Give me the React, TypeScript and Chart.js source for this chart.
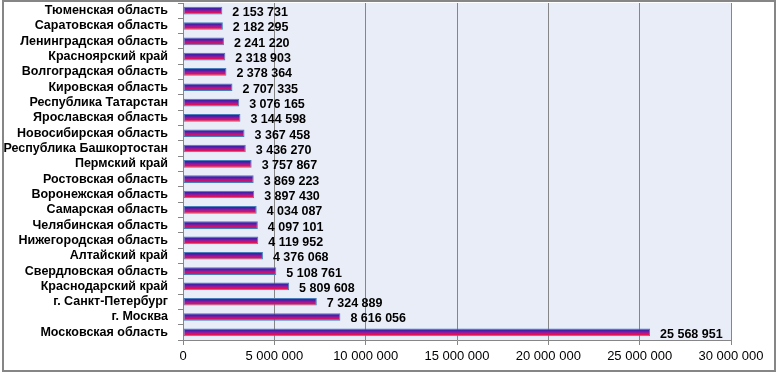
import { useEffect, useRef } from "react";
import { Chart, registerables } from "chart.js";

Chart.register(...registerables);

const regions = [
  "Тюменская область",
  "Саратовская область",
  "Ленинградская область",
  "Красноярский край",
  "Волгоградская область",
  "Кировская область",
  "Республика Татарстан",
  "Ярославская область",
  "Новосибирская область",
  "Республика Башкортостан",
  "Пермский край",
  "Ростовская область",
  "Воронежская область",
  "Самарская область",
  "Челябинская область",
  "Нижегородская область",
  "Алтайский край",
  "Свердловская область",
  "Краснодарский край",
  "г. Санкт-Петербург",
  "г. Москва",
  "Московская область",
];

const values = [
  2153731, 2182295, 2241220, 2318903, 2378364, 2707335, 3076165, 3144598,
  3367458, 3436270, 3757867, 3869223, 3897430, 4034087, 4097101, 4119952,
  4376068, 5108761, 5809608, 7324889, 8616056, 25568951,
];

const xTicks = [0, 5000000, 10000000, 15000000, 20000000, 25000000, 30000000];

const FONT = "'Liberation Sans', Arial, sans-serif";
const BAR_PCT = 0.5;

function fmt(n: number): string {
  return String(Math.round(n)).replace(/\B(?=(\d{3})+(?!\d))/g, " ");
}

export default function App() {
  const ref = useRef<HTMLCanvasElement | null>(null);

  useEffect(() => {
    const canvas = ref.current;
    if (!canvas) return;

    const bgPlugin = {
      id: "bgPlugin",
      beforeDraw(chart: any) {
        const { ctx, chartArea } = chart;
        ctx.save();
        ctx.fillStyle = "#ffffff";
        ctx.fillRect(0, 0, chart.width, chart.height);
        ctx.fillStyle = "#E9EDF7";
        ctx.fillRect(
          chartArea.left,
          chartArea.top,
          chartArea.right - chartArea.left,
          chartArea.bottom - chartArea.top
        );
        ctx.restore();
      },
      afterDraw(chart: any) {
        const { ctx } = chart;
        ctx.save();
        ctx.strokeStyle = "#868686";
        ctx.lineWidth = 2;
        ctx.strokeRect(3, 1, 772, 370);
        ctx.restore();
      },
    };

    const labelPlugin = {
      id: "labelPlugin",
      afterDatasetsDraw(chart: any) {
        const { ctx } = chart;
        const meta = chart.getDatasetMeta(0);
        ctx.save();
        ctx.font = `bold 12.5px ${FONT}`;
        ctx.fillStyle = "#000000";
        ctx.textAlign = "left";
        ctx.textBaseline = "middle";
        meta.data.forEach((el: any, i: number) => {
          const { x, y } = el.getProps(["x", "y"], true);
          ctx.fillText(fmt(values[i]), x + 10, y + 2);
        });
        ctx.restore();
      },
    };

    const chart = new Chart(canvas, {
      type: "bar",
      data: {
        labels: regions,
        datasets: [
          {
            data: values,
            backgroundColor: (c: any) => {
              const ch = c.chart;
              const scale = ch.scales?.y;
              const area = ch.chartArea;
              if (!scale || !area) return "#c01070";
              const yc = scale.getPixelForValue(c.dataIndex);
              const band = (area.bottom - area.top) / regions.length;
              const half = (band * BAR_PCT) / 2;
              const g = ch.ctx.createLinearGradient(0, yc - half, 0, yc + half);
              g.addColorStop(0, "#2426a4");
              g.addColorStop(0.3, "#4a20a8");
              g.addColorStop(0.55, "#a01898");
              g.addColorStop(0.8, "#e8104c");
              g.addColorStop(1, "#ff1030");
              return g;
            },
            borderColor: "#4a7ebb",
            borderWidth: 1,
            borderSkipped: false,
            barPercentage: BAR_PCT,
            categoryPercentage: 1,
          },
        ],
      },
      options: {
        indexAxis: "y",
        animation: false,
        responsive: false,
        maintainAspectRatio: false,
        layout: { padding: { left: 0, top: 3, right: 46, bottom: 0 } },
        plugins: {
          legend: { display: false },
          tooltip: { enabled: false },
        },
        scales: {
          x: {
            type: "linear",
            min: 0,
            max: 30000000,
            afterBuildTicks: (s: any) => {
              s.ticks = xTicks.map((v) => ({ value: v }));
            },
            afterFit: (s: any) => {
              s.height = 34;
              s.paddingLeft = 0;
              s.paddingRight = 0;
              s.paddingTop = 0;
              s.paddingBottom = 0;
            },
            ticks: {
              autoSkip: false,
              maxRotation: 0,
              padding: 4,
              color: "#000000",
              font: { family: FONT, size: 13 },
              callback: (v: any) => fmt(Number(v)),
            },
            grid: {
              color: "#868686",
              lineWidth: 1,
              drawTicks: true,
              tickLength: 5,
            },
            border: { color: "#868686", width: 1 },
          },
          y: {
            type: "category",
            afterFit: (s: any) => {
              s.width = 183;
              s.paddingLeft = 0;
              s.paddingRight = 0;
              s.paddingTop = 0;
              s.paddingBottom = 0;
            },
            ticks: {
              autoSkip: false,
              padding: 10,
              color: "#000000",
              font: { family: FONT, size: 12.5, weight: "bold" },
            },
            grid: {
              offset: true,
              drawOnChartArea: false,
              drawTicks: true,
              tickLength: 5,
              color: "#868686",
            },
            border: { color: "#868686", width: 1 },
          },
        },
      },
      plugins: [bgPlugin, labelPlugin],
    } as any);

    return () => chart.destroy();
  }, []);

  return (
    <div style={{ position: "absolute", left: 0, top: 0, width: 777, height: 374 }}>
      <canvas ref={ref} width={777} height={374} style={{ width: 777, height: 374, display: "block" }} />
    </div>
  );
}
